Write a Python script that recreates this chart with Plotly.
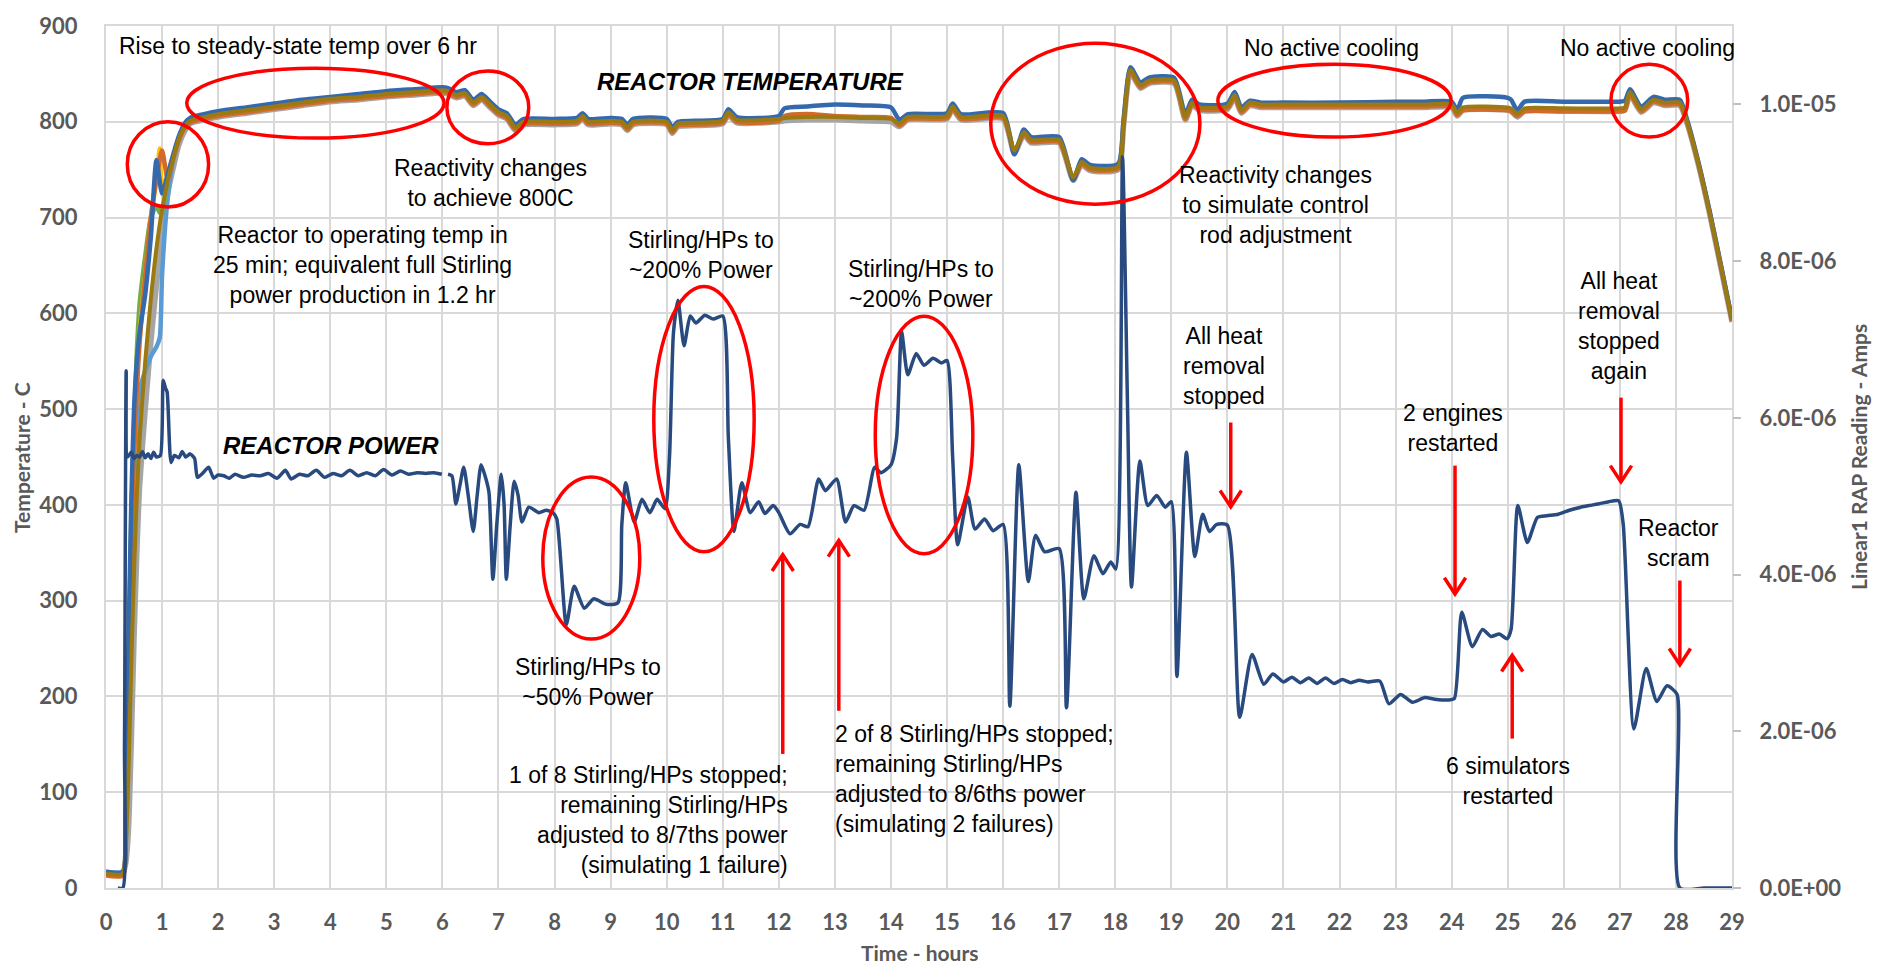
import plotly.graph_objects as go

# ---------------- DATA ----------------
temp_hours = [0, 0.3, 0.35, 0.4, 0.45, 0.5, 0.55, 0.6, 0.7, 0.8, 0.9, 1.0, 1.1, 1.2, 1.3, 1.4, 1.5,
              2.0, 2.5, 3.0, 3.5, 4.0, 4.5, 5.0, 5.5, 6.0, 6.1, 6.25, 6.4, 6.55, 6.7, 6.85, 7.0,
              7.15, 7.3, 7.45, 8.0, 8.4, 8.5, 8.6, 9.0, 9.2, 9.3, 9.4, 10.0, 10.1, 10.2, 10.5,
              11.0, 11.1, 11.25, 12.0, 12.1, 12.5, 13.0, 13.5, 14.0, 14.15, 14.3, 15.0, 15.1,
              15.25, 16.0, 16.2, 16.37, 16.5, 17.0, 17.25, 17.4, 17.55, 18.05, 18.15, 18.27,
              18.45, 18.6, 19.05, 19.25, 19.37, 19.5, 20.0, 20.13, 20.25, 20.4, 20.6, 21.0, 22.0,
              23.0, 23.5, 24.0, 24.1, 24.2, 25.0, 25.06, 25.17, 25.3, 26.0, 27.0, 27.09, 27.18,
              27.38, 27.6, 27.8, 28.07, 28.2, 28.4, 28.6, 28.8, 29.0]

temp_olive = [15, 15, 40, 120, 230, 330, 410, 470, 550, 615, 668, 708, 738, 762, 782, 795, 801,
              808, 812, 816, 820, 824, 826, 829, 831, 833, 832, 828, 830, 820, 826, 818, 810,
              806, 794, 800, 800, 801, 806, 800, 801, 800, 794, 800, 800, 791, 798, 799,
              801, 810, 802, 803, 804, 805, 805, 804, 803, 798, 805, 806, 816,
              805, 806, 770, 789, 781, 781, 742, 758, 752, 753, 800, 854,
              838, 843, 843, 805, 820, 815, 816, 828, 812, 820, 818, 818, 818,
              818, 818, 818, 809, 815, 815, 814, 808, 814, 814, 814, 815, 831,
              813, 823, 820, 820, 800, 757, 706, 650, 593]

temp_blue = [17, 17, 80, 250, 400, 500, 550, 580, 620, 680, 760, 725, 745, 766, 785, 798, 804,
             811, 815, 819, 823, 826, 829, 832, 834, 836, 835, 831, 833, 823, 829, 821, 813,
             809, 797, 803, 803, 804, 809, 803, 804, 803, 797, 803, 803, 794, 800, 801,
             803, 813, 805, 806, 814, 816, 818, 817, 815, 802, 808, 809, 819,
             808, 809, 766, 792, 784, 784, 739, 761, 755, 756, 803, 857,
             841, 846, 846, 808, 823, 818, 819, 831, 815, 822, 820, 820, 820,
             821, 821, 821, 812, 825, 825, 823, 812, 821, 821, 821, 822, 834,
             816, 826, 823, 823, 802, 758, 707, 651, 594]

temp_orange = [13, 13, 60, 200, 350, 450, 520, 570, 640, 700, 740, 770, 740, 762, 781, 793, 799,
               806, 810, 814, 818, 822, 824, 827, 829, 831, 830, 826, 828, 818, 824, 816, 808,
               804, 792, 798, 798, 799, 804, 798, 799, 798, 792, 798, 798, 789, 796, 797,
               799, 808, 800, 801, 806, 808, 806, 805, 804, 796, 803, 804, 814,
               803, 804, 768, 787, 779, 779, 740, 756, 750, 751, 798, 852,
               836, 841, 841, 803, 818, 813, 814, 826, 810, 818, 816, 816, 816,
               816, 816, 816, 807, 812, 812, 811, 806, 811, 811, 811, 812, 829,
               811, 821, 818, 818, 799, 756, 705, 649, 592]

temp_grey = [16, 16, 25, 60, 150, 260, 350, 420, 500, 570, 630, 690, 725, 752, 776, 790, 798,
             805, 809, 813, 817, 821, 823, 826, 828, 830, 829, 825, 827, 817, 823, 815, 807,
             803, 791, 797, 797, 798, 803, 797, 798, 797, 791, 797, 797, 788, 795, 796,
             798, 807, 799, 800, 801, 802, 802, 801, 800, 795, 802, 803, 813,
             802, 803, 767, 786, 778, 778, 739, 755, 749, 750, 797, 851,
             835, 840, 840, 802, 817, 812, 813, 825, 809, 817, 815, 815, 815,
             815, 815, 815, 806, 812, 812, 811, 805, 811, 811, 811, 812, 828,
             810, 820, 817, 817, 798, 755, 704, 648, 591]

rise_hours = [0, 0.3, 0.35, 0.4, 0.45, 0.5, 0.55, 0.6, 0.7, 0.8, 0.9, 0.96, 1.0, 1.1, 1.2, 1.3,
              1.4, 1.5, 2.0]
temp_lightblue = [17, 17, 50, 150, 300, 420, 480, 520, 540, 555, 565, 575, 640, 720, 760, 782,
                  795, 801, 807]
temp_green = [14, 14, 70, 220, 380, 480, 560, 610, 660, 700, 712, 705, 705, 740, 763, 782,
              795, 801, 807]
temp_yellow = [16, 16, 55, 180, 340, 450, 530, 580, 640, 700, 740, 772, 735, 742, 764, 783,
               796, 802, 808]

power_hours = [0.21, 0.30, 0.33, 0.36, 0.385, 0.45, 0.5, 0.55, 0.6, 0.65, 0.7, 0.75, 0.8, 0.85,
               0.9, 0.97, 1.02, 1.06, 1.09, 1.16, 1.22, 1.3, 1.36, 1.42, 1.5, 1.58, 1.63, 1.72,
               1.83, 1.92, 2.0, 2.1, 2.2, 2.3, 2.45, 2.6, 2.75, 2.9, 3.05, 3.2, 3.3, 3.45, 3.6,
               3.75, 3.9, 4.05, 4.2, 4.35, 4.5, 4.65, 4.8, 4.95, 5.1, 5.25, 5.4, 5.55, 5.7,
               5.85, 5.99, 6.03, 6.1, 6.17, 6.24, 6.31, 6.38, 6.46, 6.55, 6.62, 6.69, 6.76,
               6.83, 6.9, 6.97, 7.05, 7.1, 7.14, 7.21, 7.28, 7.35, 7.42, 7.54, 7.72, 7.85, 7.97,
               8.04, 8.21, 8.35, 8.53, 8.7, 8.92, 9.13, 9.2, 9.27, 9.42, 9.56, 9.7, 9.83, 9.97,
               10.05, 10.12, 10.2, 10.31, 10.42, 10.52, 10.68, 10.83, 11.0, 11.1, 11.2, 11.34,
               11.49, 11.64, 11.75, 11.9, 12.0, 12.2, 12.38, 12.52, 12.71, 12.83, 13.03, 13.19,
               13.34, 13.52, 13.71, 13.82, 14.0, 14.1, 14.19, 14.3, 14.45, 14.59, 14.75, 14.9,
               15.0, 15.1, 15.19, 15.37, 15.5, 15.67, 15.82, 16.0, 16.12, 16.28, 16.45, 16.58,
               16.74, 17.0, 17.13, 17.3, 17.44, 17.62, 17.78, 17.92, 18.01, 18.13, 18.22, 18.29,
               18.44, 18.58, 18.74, 18.89, 19.0, 19.1, 19.27, 19.42, 19.56, 19.68, 19.81, 20.0,
               20.22, 20.44, 20.65, 20.81, 21.0, 21.15, 21.3, 21.45, 21.6, 21.75, 21.9, 22.05,
               22.2, 22.35, 22.5, 22.72, 22.88, 23.09, 23.3, 23.52, 23.7, 23.95, 24.05, 24.18,
               24.37, 24.55, 24.7, 24.85, 24.99, 25.06, 25.18, 25.35, 25.53, 25.7, 25.9, 26.1,
               26.25, 26.45, 26.61, 26.8, 26.98, 27.06, 27.25, 27.47, 27.66, 27.84, 28.02,
               28.07, 28.5, 29.0]

# reactor power, micro-amps (x 1e-6 A)
power_uA = [0.0, 0.0, 1.83, 6.60, 5.50, 5.56, 5.48, 5.52, 5.50, 5.57, 5.49, 5.54, 5.48, 5.56,
            5.50, 5.52, 6.48, 6.38, 6.33, 5.43, 5.52, 5.49, 5.57, 5.50, 5.54, 5.48, 5.24, 5.29,
            5.37, 5.23, 5.27, 5.26, 5.23, 5.28, 5.24, 5.27, 5.26, 5.29, 5.23, 5.33, 5.22, 5.28,
            5.26, 5.33, 5.24, 5.29, 5.26, 5.33, 5.26, 5.30, 5.26, 5.34, 5.27, 5.32, 5.28, 5.30,
            5.29, 5.30, 5.28, None, 5.28, 5.26, 4.90, 5.13, 5.37, 5.01, 4.55, 5.01, 5.40, 5.26,
            5.05, 3.94, 4.64, 5.28, 4.89, 3.94, 4.64, 5.19, 5.01, 4.67, 4.86, 4.79, 4.82, 4.79,
            4.71, 3.36, 3.85, 3.57, 3.69, 3.62, 3.64, 4.64, 5.17, 4.67, 4.96, 4.79, 4.96, 4.84,
            5.50, 7.08, 7.50, 6.92, 7.30, 7.21, 7.31, 7.26, 7.30, 5.74, 4.55, 5.17,
            4.79, 4.93, 4.78, 4.88, 4.79, 4.52, 4.64, 4.61, 5.22, 5.07, 5.22, 4.67,
            4.88, 4.82, 5.37, 5.30, 5.40, 5.74, 7.10, 6.55, 6.82, 6.67, 6.76, 6.70,
            6.73, 5.50, 4.38, 4.99, 4.58, 4.71, 4.56, 4.64, 2.32, 5.40, 3.91, 4.50,
            4.29, 4.33, 2.30, 5.05, 3.69, 4.24, 4.01, 4.16, 4.07, 9.33, 6.11, 3.84,
            5.45, 4.88, 5.01, 4.86, 4.93, 2.70, 5.56, 4.23, 4.77, 4.55, 4.64, 4.63,
            2.18, 2.98, 2.60, 2.73, 2.63, 2.69, 2.62, 2.68, 2.61, 2.68, 2.61, 2.66,
            2.62, 2.65, 2.63, 2.64, 2.35, 2.47, 2.37, 2.43, 2.41, 2.40, 2.42, 3.52,
            3.08, 3.30, 3.21, 3.24, 3.18, 3.30, 4.88, 4.41, 4.73, 4.75, 4.77, 4.82,
            4.85, 4.88, 4.90, 4.93, 4.94, 4.64, 2.03, 2.80, 2.38, 2.58, 2.47,
            0.0, 0.0, 0.0]

x_tick_vals = list(range(0, 30))
temp_tick_vals = [0, 100, 200, 300, 400, 500, 600, 700, 800, 900]
amp_tick_vals = [0, 2e-6, 4e-6, 6e-6, 8e-6, 1e-5]
amp_tick_text = ["0.0E+00", "2.0E-06", "4.0E-06", "6.0E-06", "8.0E-06", "1.0E-05"]

assert len(temp_hours) == len(temp_olive) == len(temp_blue) == len(temp_orange) == len(temp_grey)
assert len(rise_hours) == len(temp_lightblue) == len(temp_green) == len(temp_yellow)
assert len(power_hours) == len(power_uA)

# ---------------- FIGURE ----------------
fig = go.Figure()

LW = 4.5
temp_traces = [
    (temp_hours, temp_grey, "#A5A5A5", 5.5),
    (rise_hours, temp_lightblue, "#5B9BD5", LW),
    (rise_hours, temp_green, "#70AD47", LW),
    (rise_hours, temp_yellow, "#FFC000", LW),
    (temp_hours, temp_orange, "#D46A2A", LW),
    (temp_hours, temp_blue, "#3569AE", LW),
    (temp_hours, temp_olive, "#9C7A12", 4),
]
for xs, ys, col, w in temp_traces:
    fig.add_trace(go.Scatter(x=xs, y=ys, mode="lines",
                             line=dict(color=col, width=w, shape="spline", smoothing=0.6),
                             hoverinfo="skip", yaxis="y"))

fig.add_trace(go.Scatter(x=power_hours,
                         y=[None if v is None else v * 1e-6 for v in power_uA],
                         mode="lines", yaxis="y2",
                         line=dict(color="#284A7E", width=3.5, shape="spline", smoothing=0.6),
                         hoverinfo="skip"))

tick_font = dict(family="Lato, Carlito, sans-serif", size=22, color="#595959", weight="bold")
grid_col = "#D9D9D9"

fig.update_layout(
    width=1877, height=964,
    margin=dict(l=106, r=145, t=22, b=76),
    paper_bgcolor="white", plot_bgcolor="white",
    showlegend=False,
    xaxis=dict(range=[0, 29], tickvals=x_tick_vals, showgrid=True, gridcolor=grid_col,
               gridwidth=2, zeroline=False, showline=True, mirror=True, linecolor=grid_col,
               linewidth=2, ticks="", tickfont=tick_font, ticklabelstandoff=14),
    yaxis=dict(range=[0, 900], tickvals=temp_tick_vals, showgrid=True, gridcolor=grid_col,
               gridwidth=2, zeroline=False, showline=True, mirror=True, linecolor=grid_col,
               linewidth=2, ticks="", tickfont=tick_font, ticklabelstandoff=22),
    yaxis2=dict(range=[0, 1.1e-5], overlaying="y", side="right", tickvals=amp_tick_vals,
                ticktext=amp_tick_text, showgrid=False, zeroline=False, showline=False,
                ticks="outside", ticklen=8, tickwidth=2, tickcolor="#BFBFBF",
                tickfont=tick_font, ticklabelstandoff=14),
)

# axis titles
title_font = dict(family="Lato, Carlito, sans-serif", size=21, color="#595959", weight="bold")
fig.add_annotation(text="Temperature - C", xref="paper", yref="paper", x=-0.0523, y=0.5,
                   textangle=-90, showarrow=False, font=title_font,
                   xanchor="center", yanchor="middle")
fig.add_annotation(text="Linear1 RAP Reading - Amps", xref="paper", yref="paper", x=1.0775,
                   y=0.5, textangle=-90, showarrow=False, font=title_font,
                   xanchor="center", yanchor="middle")
fig.add_annotation(text="Time - hours", xref="paper", yref="paper", x=0.5, y=-0.0745,
                   showarrow=False, font=title_font, xanchor="center", yanchor="middle")

# text annotations
note_font = dict(family="Liberation Sans, Arial, sans-serif", size=23, color="black")
bold_font = dict(family="Liberation Sans, Arial, sans-serif", size=24, color="black",
                 weight="bold", style="italic")

notes = [
    (0.2, 879, "Rise to steady-state temp over 6 hr", "left", "left"),
    (6.85, 736, "Reactivity changes<br>to achieve 800C", "center", "center"),
    (4.58, 650, "Reactor to operating temp in<br>25 min; equivalent full Stirling<br>power production in 1.2 hr", "center", "center"),
    (10.61, 661, "Stirling/HPs to<br>~200% Power", "center", "center"),
    (14.54, 631, "Stirling/HPs to<br>~200% Power", "center", "center"),
    (21.85, 877, "No active cooling", "center", "center"),
    (27.5, 877, "No active cooling", "center", "center"),
    (20.85, 713, "Reactivity changes<br>to simulate control<br>rod adjustment", "center", "center"),
    (19.94, 545, "All heat<br>removal<br>stopped", "center", "center"),
    (26.98, 587, "All heat<br>removal<br>stopped<br>again", "center", "center"),
    (24.02, 480, "2 engines<br>restarted", "center", "center"),
    (28.04, 360, "Reactor<br>scram", "center", "center"),
    (25.0, 112, "6 simulators<br>restarted", "center", "center"),
    (8.6, 215, "Stirling/HPs to<br>~50% Power", "center", "center"),
    (12.2, 70.6, "1 of 8 Stirling/HPs stopped;<br>remaining Stirling/HPs<br>adjusted to 8/7ths power<br>(simulating 1 failure)", "right", "right"),
    (12.97, 114, "2 of 8 Stirling/HPs stopped;<br>remaining Stirling/HPs<br>adjusted to 8/6ths power<br>(simulating 2 failures)", "left", "left"),
]
for x, y, txt, xa, al in notes:
    fig.add_annotation(x=x, y=y, xref="x", yref="y", text=txt, showarrow=False,
                       xanchor=xa, yanchor="middle", align=al, font=note_font)

fig.add_annotation(x=11.49, y=842, xref="x", yref="y", text="REACTOR TEMPERATURE",
                   showarrow=False, xanchor="center", yanchor="middle", font=bold_font)
fig.add_annotation(x=4.01, y=462, xref="x", yref="y", text="REACTOR POWER",
                   showarrow=False, xanchor="center", yanchor="middle", font=bold_font)

# red ellipses (x0, x1, y0, y1)
ellipses = [
    (0.38, 1.83, 711, 800),
    (1.44, 6.03, 783, 856),
    (6.08, 7.54, 777, 853),
    (9.77, 11.56, 351, 628),
    (7.79, 9.52, 260, 429),
    (13.72, 15.46, 349, 597),
    (15.78, 19.51, 714, 882),
    (19.83, 23.99, 784, 860),
    (26.84, 28.21, 784, 860),
]
for x0, x1, y0, y1 in ellipses:
    fig.add_shape(type="circle", xref="x", yref="y", x0=x0, x1=x1, y0=y0, y1=y1,
                  line=dict(color="#FF0000", width=3.5), layer="above")

# red arrows (x, tail y, tip y)
arrows = [
    (12.07, 140, 348),
    (13.07, 185, 363),
    (20.06, 486, 398),
    (24.06, 441, 307),
    (27.02, 512, 424),
    (28.07, 321, 233),
    (25.08, 156, 243),
]
dx, dy = 0.19, 17
for x, yt, yp in arrows:
    fig.add_shape(type="line", xref="x", yref="y", x0=x, x1=x, y0=yt, y1=yp,
                  line=dict(color="#FF0000", width=3.5), layer="above")
    s = 1 if yt < yp else -1
    path = f"M {x - dx},{yp - s * dy} L {x},{yp} L {x + dx},{yp - s * dy}"
    fig.add_shape(type="path", xref="x", yref="y", path=path,
                  line=dict(color="#FF0000", width=3.5), layer="above")

fig.write_html(
    "out.html",
    config={"displayModeBar": False},
    post_script="document.body.style.margin='0';document.body.style.padding='0';"
                "document.body.style.overflow='hidden';",
)
